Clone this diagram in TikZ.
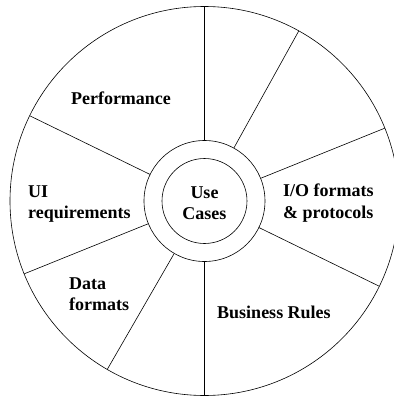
\documentclass[tikz,border=0pt]{standalone}
\usepackage{fontspec}
\setmainfont{Liberation Serif}
\begin{document}
\begin{tikzpicture}[x=1pt, y=1pt]
    \tikzset{>=latex}
    \tikzset{lbl/.style={font=\fontsize{18}{21.5}\selectfont\bfseries, inner sep=0pt}}
    \useasboundingbox (-204.5,-196) rectangle (189.5,201);
    \clip (-204.5,-196) rectangle (189.5,201);

    \coordinate (O) at (0,0);
    \draw [line width=0.6pt] (O) circle (194.5);
    \node (ring) at (O) [circle, draw, line width=0.6pt, minimum size=121pt, inner sep=0pt] {};
    \node (core) at (O) [circle, draw, line width=0.6pt, minimum size=85pt, inner sep=0pt] {};

    \foreach \a in {61,22,-26,-120,202,154}{
	\draw [line width=0.6pt] (ring.\a) -- (\a:194.5);
    }
    \foreach \a in {90,-90}{
	\draw [line width=0.9pt] (ring.\a) -- (\a:194.5);
    }

    \node (usecases) at (0,-2) [lbl, align=center] {Use\\Cases};
    \node (perf) at (-83.5,103) [lbl] {Performance};
    \node (ui) at (-176.5,-3) [lbl, anchor=west, align=left] {UI\\requirements};
    \node (io) at (78.5,-2) [lbl, anchor=west, align=left] {I/O formats\\\& protocols};
    \node (data) at (-135.5,-93) [lbl, anchor=west, align=left] {Data\\formats};
    \node (rules) at (69.5,-111) [lbl] {Business Rules};
    \end{tikzpicture}
\end{document}
